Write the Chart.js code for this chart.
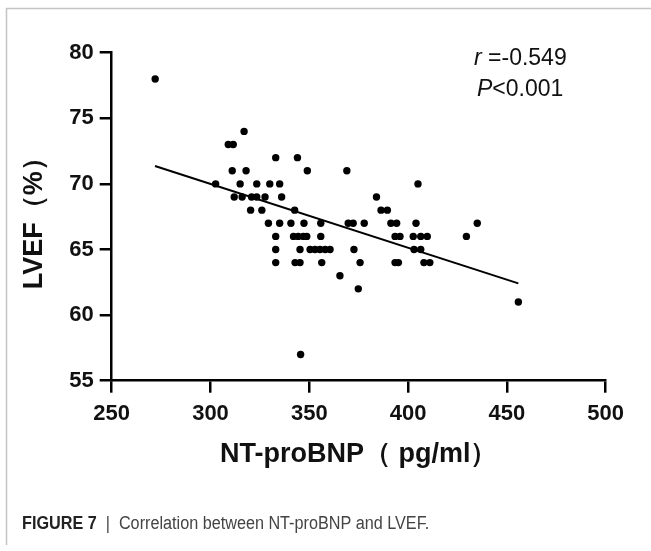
<!DOCTYPE html>
<html>
<head>
<meta charset="utf-8">
<script src="https://cdn.jsdelivr.net/npm/chart.js@4.4.1/dist/chart.umd.min.js"></script>
<style>
  html, body { margin: 0; padding: 0; background: #fff; }
  #wrap { width: 651px; height: 551px; position: relative; }
</style>
</head>
<body>
<div id="wrap"><canvas id="corr" width="651" height="551"></canvas></div>
<script>
// NT-proBNP (pg/ml) and LVEF (%) for each patient
const ntProBNP = [
  272,
  317,
  309, 311.5,
  333, 344,
  311, 318, 349, 369,
  302.6, 315, 323.4, 330, 335, 405,
  312, 316, 320.8, 323.4, 327.6, 336, 384,
  320.3, 326, 342.6, 386.3, 389.5,
  329.3, 335, 340.7, 347.3, 355.8, 369.7, 372.2, 377.8, 391.3, 394.2, 404, 435,
  333, 342, 344.4, 347, 348.7, 355.8, 393.4, 395.9, 402.6, 406.4, 409.7, 429.5,
  333, 345.3, 350.4, 352.9, 355.4, 358, 360.5, 372.6, 403, 406.4,
  333, 342.8, 345.3, 356.3, 375.7, 393.4, 395.1, 408, 411,
  365.5,
  374.8,
  455.8,
  345.6
];
const lvef = [
  78,
  74,
  73, 73,
  72, 72,
  71, 71, 71, 71,
  70, 70, 70, 70, 70, 70,
  69, 69, 69, 69, 69, 69, 69,
  68, 68, 68, 68, 68,
  67, 67, 67, 67, 67, 67, 67, 67, 67, 67, 67, 67,
  66, 66, 66, 66, 66, 66, 66, 66, 66, 66, 66, 66,
  65, 65, 65, 65, 65, 65, 65, 65, 65, 65,
  64, 64, 64, 64, 64, 64, 64, 64, 64,
  63,
  62,
  61,
  57
];

// regression line end points
const fitX = [271.9, 455.8];
const fitY = [71.36, 62.42];

const xTicks = [250, 300, 350, 400, 450, 500];
const yTicks = [55, 60, 65, 70, 75, 80];

const points = ntProBNP.map((x, i) => ({ x: x, y: lvef[i] }));
const fitLine = fitX.map((x, i) => ({ x: x, y: fitY[i] }));

// text that is not part of the axes: r / P, the caption and the panel frame
const extras = {
  id: 'extras',
  afterDraw(chart) {
    const ctx = chart.ctx;
    ctx.save();

    // frame
    ctx.strokeStyle = '#c4c4c4';
    ctx.lineWidth = 1.5;
    ctx.beginPath();
    ctx.moveTo(651, 8.5);
    ctx.lineTo(6.5, 8.5);
    ctx.lineTo(6.5, 545);
    ctx.stroke();

    // r and P
    ctx.fillStyle = '#111';
    ctx.textBaseline = 'alphabetic';
    ctx.textAlign = 'left';
    let x = 474;
    ctx.font = 'italic 23px "Liberation Sans", Arial, sans-serif';
    ctx.fillText('r', x, 65);
    x += ctx.measureText('r').width;
    ctx.font = '23px "Liberation Sans", Arial, sans-serif';
    ctx.fillText(' =-0.549', x, 65);

    x = 477;
    ctx.font = 'italic 23px "Liberation Sans", Arial, sans-serif';
    ctx.fillText('P', x, 96);
    x += ctx.measureText('P').width;
    ctx.font = '23px "Liberation Sans", Arial, sans-serif';
    ctx.fillText('<0.001', x, 96);

    // caption, condensed like the journal's sans
    ctx.translate(22, 529);
    ctx.scale(0.9, 1);
    x = 0;
    ctx.fillStyle = '#222';
    ctx.font = 'bold 18px "Liberation Sans", Arial, sans-serif';
    ctx.fillText('FIGURE 7', x, 0);
    x += ctx.measureText('FIGURE 7').width;
    ctx.fillStyle = '#444';
    ctx.font = '18px "Liberation Sans", Arial, sans-serif';
    ctx.fillText('  |  Correlation between NT-proBNP and LVEF.', x, 0);

    ctx.restore();
  }
};

const axisFont = { family: '"Liberation Sans", Arial, sans-serif', size: 22, weight: 'bold' };

new Chart(document.getElementById('corr'), {
  type: 'scatter',
  data: {
    datasets: [
      {
        label: 'Patients',
        data: points,
        backgroundColor: '#000',
        borderColor: '#000',
        pointRadius: 3.7,
        pointHoverRadius: 3.7,
        borderWidth: 0
      },
      {
        type: 'line',
        label: 'Fit',
        data: fitLine,
        borderColor: '#000',
        borderWidth: 2,
        pointRadius: 0,
        fill: false
      }
    ]
  },
  options: {
    responsive: false,
    animation: false,
    events: [],
    layout: { padding: { left: 0, top: 52.7, right: 45.3, bottom: 70.3 } },
    plugins: {
      legend: { display: false },
      tooltip: { enabled: false }
    },
    scales: {
      x: {
        type: 'linear',
        min: 250,
        max: 500,
        afterBuildTicks: (scale) => { scale.ticks = xTicks.map(v => ({ value: v })); },
        afterFit: (scale) => { scale.height = 100; },
        border: { display: true, color: '#000', width: 2.5 },
        grid: { display: true, drawOnChartArea: false, drawTicks: true, tickLength: 12, color: '#000', lineWidth: 2.5 },
        ticks: { color: '#111', font: axisFont, padding: 8, maxRotation: 0 },
        title: {
          display: true,
          text: 'NT-proBNP（ pg/ml）',
          color: '#111',
          font: { family: '"Liberation Sans", Arial, sans-serif', size: 27, weight: 'bold' },
          padding: { top: 0, bottom: 10 }
        }
      },
      y: {
        min: 55,
        max: 80,
        afterBuildTicks: (scale) => { scale.ticks = yTicks.map(v => ({ value: v })); },
        afterFit: (scale) => { scale.width = 111.7; },
        border: { display: true, color: '#000', width: 2.5 },
        grid: { display: true, drawOnChartArea: false, drawTicks: true, tickLength: 12, color: '#000', lineWidth: 2.5 },
        ticks: { color: '#111', font: axisFont, padding: 6 },
        title: {
          display: true,
          text: 'LVEF（%）',
          color: '#111',
          font: { family: '"Liberation Sans", Arial, sans-serif', size: 27, weight: 'bold' },
          padding: { top: 18, bottom: 0 }
        }
      }
    }
  },
  plugins: [extras]
});
</script>
</body>
</html>
